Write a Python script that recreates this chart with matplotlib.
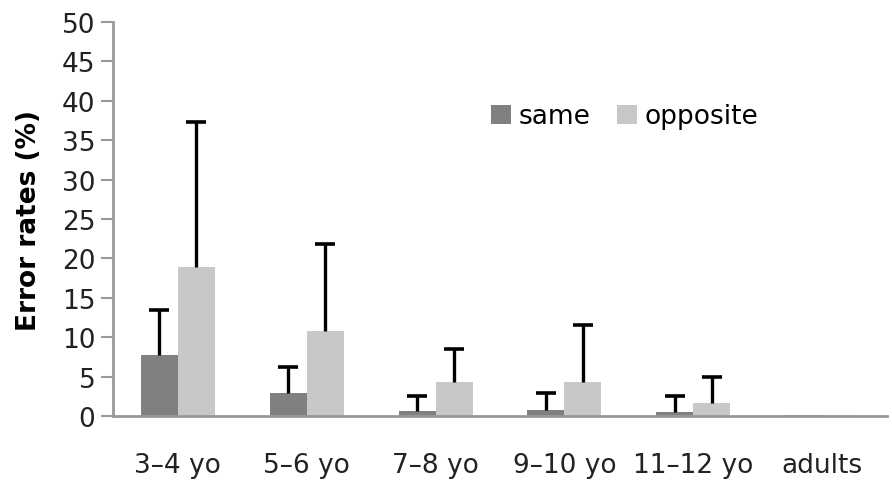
import numpy as np
import matplotlib
matplotlib.use("Agg")
import matplotlib.pyplot as plt

# Значения
groups = ["3\u20134 yo", "5\u20136 yo", "7\u20138 yo", "9\u201310 yo", "11\u201312 yo", "adults"]
same = [7.7, 2.9, 0.7, 0.8, 0.55, 0.1]
same_err = [5.7, 3.3, 1.9, 2.1, 1.95, 0.0]
opposite = [18.9, 10.8, 4.3, 4.3, 1.7, 0.1]
opposite_err = [18.4, 11.0, 4.2, 7.2, 3.3, 0.0]
yticks = list(range(0, 51, 5))

plt.rcParams['font.family'] = ['DejaVu Sans']

fig = plt.figure(figsize=(8.92, 4.89), dpi=100)
ax = fig.add_axes([0.127, 0.147, 0.867, 0.806])

x = np.arange(len(groups))
w = 0.287


def upper_err(xs, vals, errs):
    # только верхняя половина планки погрешности
    xs = np.asarray(xs)
    vals = np.asarray(vals)
    errs = np.asarray(errs)
    m = errs > 0
    ax.vlines(xs[m], vals[m], vals[m] + errs[m], color="black", linewidth=2.4, zorder=3)
    ax.plot(xs[m], vals[m] + errs[m], linestyle="none", marker="_",
            markersize=15, markeredgewidth=2.6, color="black", zorder=3)


ax.bar(x - w / 2, same, w, color="#808080", label="same")
ax.bar(x + w / 2, opposite, w, color="#c8c8c8", label="opposite")
upper_err(x - w / 2, same, same_err)
upper_err(x + w / 2, opposite, opposite_err)

ax.set_xlim(-0.5, len(groups) - 0.5)
ax.set_ylim(0, 50)
ax.set_yticks(yticks)
ax.set_xticks(x)
ax.set_xticklabels(groups)
ax.tick_params(axis="x", length=0, pad=26, labelsize=19, colors="#222222")
ax.tick_params(axis="y", length=9, width=1.5, color="#999999", labelsize=19,
               labelcolor="#222222", pad=4)
for s in ("top", "right"):
    ax.spines[s].set_visible(False)
for s in ("left", "bottom"):
    ax.spines[s].set_color("#999999")
    ax.spines[s].set_linewidth(2)

ax.set_ylabel("Error rates (%)", fontsize=19, fontweight="bold", labelpad=14)

ax.legend(loc="upper left", bbox_to_anchor=(0.475, 0.82), ncol=2, frameon=False,
          fontsize=19, handlelength=0.75, handleheight=0.75, handletextpad=0.3,
          columnspacing=1.0, borderaxespad=0)

fig.savefig("out.png", dpi=100)
